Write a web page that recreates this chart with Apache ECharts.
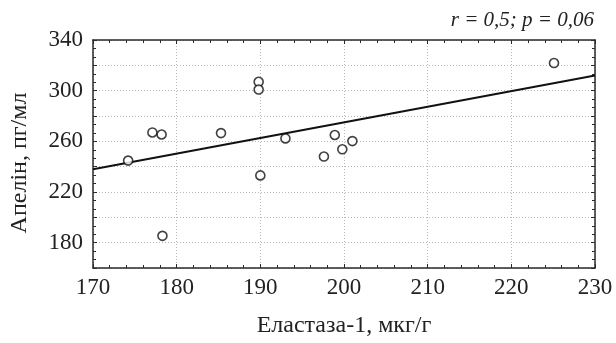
<!DOCTYPE html>
<html>
<head>
<meta charset="utf-8">
<script src="https://cdn.jsdelivr.net/npm/echarts@6/dist/echarts.min.js"></script>
<style>
  html, body { margin: 0; padding: 0; background: #fff; }
  #chart { width: 616px; height: 343px; }
</style>
</head>
<body>
<div id="chart"></div>
<script>
// Еластаза-1 (мкг/г) vs Апелін (пг/мл)
const elastase = [174.2, 177.1, 178.2, 178.3, 185.3, 189.8, 189.8, 190.0, 193.0, 197.6, 198.9, 199.8, 201.0, 225.1];
const apelin   = [244.8, 267.0, 265.4, 185.4, 266.5, 307.0, 300.9, 233.1, 262.3, 248.0, 265.0, 253.7, 260.2, 321.8];

// Linear fit endpoints
const fitX = [170, 230];
const fitY = [238, 312];

const xTitle = 'Еластаза-1, мкг/г';
const yTitle = 'Апелін, пг/мл';
const statsText = 'r = 0,5; p = 0,06';
const yLabelValues = [180, 220, 260, 300, 340];

const serif = '"Liberation Serif", "DejaVu Serif", serif';
const frame = '#2a2a2a';
const grid = { type: [1, 2], color: '#b8b8b8', width: 1 };

const points = elastase.map((x, i) => [x, apelin[i]]);
const fitLine = fitX.map((x, i) => [x, fitY[i]]);

const chart = echarts.init(document.getElementById('chart'), null, { renderer: 'canvas' });

const baseX = {
  type: 'value', min: 170, max: 230, interval: 10,
  axisLine: { show: true, lineStyle: { color: frame, width: 1.5 } },
  axisTick: { show: true, inside: true, length: 4, lineStyle: { color: frame } },
  minorTick: { show: true, splitNumber: 5, length: 3, lineStyle: { color: frame } },
};
const baseY = {
  type: 'value', min: 160, max: 340, interval: 20,
  axisLine: { show: true, lineStyle: { color: frame, width: 1.5 } },
  axisTick: { show: true, inside: true, length: 4, lineStyle: { color: frame } },
  minorTick: { show: true, splitNumber: 3, length: 3, lineStyle: { color: frame } },
};

chart.setOption({
  animation: false,
  backgroundColor: '#fff',
  grid: { left: 93, right: 21, top: 40, bottom: 72 },
  xAxis: [
    Object.assign({}, baseX, {
      position: 'bottom',
      axisLabel: { color: '#222', fontFamily: serif, fontSize: 23, margin: 8 },
      splitLine: { show: true, lineStyle: grid },
      name: xTitle, nameLocation: 'middle', nameGap: 46,
      nameTextStyle: { color: '#222', fontFamily: serif, fontSize: 24 }
    }),
    Object.assign({}, baseX, {
      position: 'top',
      axisLabel: { show: false },
      splitLine: { show: false }
    })
  ],
  yAxis: [
    Object.assign({}, baseY, {
      position: 'left',
      axisLabel: {
        color: '#222', fontFamily: serif, fontSize: 23, margin: 10,
        formatter: v => (yLabelValues.indexOf(v) >= 0 ? String(v) : '')
      },
      splitLine: { show: true, lineStyle: grid }
    }),
    Object.assign({}, baseY, {
      position: 'right',
      axisLabel: { show: false },
      splitLine: { show: false }
    })
  ],
  graphic: [
    {
      type: 'text',
      right: 22, top: 10,
      style: {
        text: statsText,
        font: 'italic 21px ' + serif,
        fill: '#222'
      }
    },
    {
      type: 'text',
      x: 20, y: 163,
      rotation: Math.PI / 2,
      style: {
        text: yTitle,
        font: '24px ' + serif,
        fill: '#222',
        align: 'center',
        verticalAlign: 'middle'
      }
    }
  ],
  series: [
    {
      type: 'line',
      data: fitLine,
      showSymbol: false,
      symbol: 'none',
      lineStyle: { color: '#111', width: 2 },
      z: 2,
      silent: true
    },
    {
      type: 'scatter',
      data: points,
      symbol: 'circle',
      symbolSize: 9,
      itemStyle: { color: '#fff', borderColor: '#111', borderWidth: 1.6 },
      z: 3
    }
  ]
});
</script>
</body>
</html>
